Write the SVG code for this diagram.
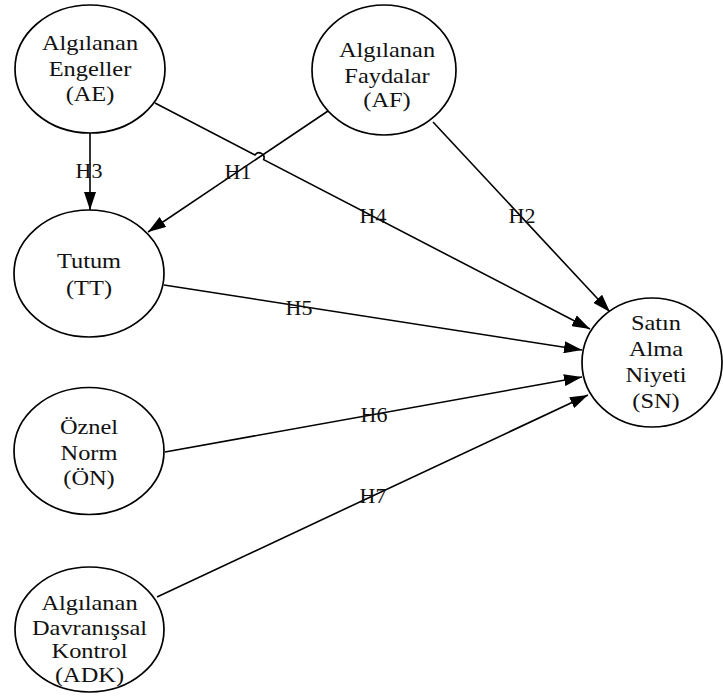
<svg xmlns="http://www.w3.org/2000/svg" width="723" height="698" viewBox="0 0 723 698">
<style>
.node ellipse{fill:#fff;stroke:#000;stroke-width:1.7}
.t{font-family:"Liberation Serif","Times New Roman",serif;font-size:20px;fill:#111;text-anchor:middle}
.lbl{font-family:"Liberation Serif","Times New Roman",serif;font-size:20px;fill:#111;text-anchor:middle}
.edge{fill:none;stroke:#000;stroke-width:1.6;marker-end:url(#arr)}
</style>
<defs>
<marker id="arr" markerUnits="userSpaceOnUse" markerWidth="18" markerHeight="12" refX="18" refY="6" orient="auto">
<path d="M0,0 L18,6 L0,12 z" fill="#000"/>
</marker>
</defs>
<rect width="723" height="698" fill="#fff"/>
<g id="connectors">
<path class="edge" d="M90,133 L90,210"/>
<path class="edge" d="M328,111 L148,232"/>
<path class="edge" d="M155,103 L254.9,155 A5,5 0 0 1 263.7,159.6 L590,329"/>
<path class="edge" d="M433,122 L610,312"/>
<path class="edge" d="M164,285 L582,350"/>
<path class="edge" d="M165,452 L582,377"/>
<path class="edge" d="M157,597 L588,395"/>
</g>
<g id="labels">
<text class="lbl" transform="translate(89,178) scale(1.1,1)">H3</text>
<text class="lbl" transform="translate(238,179) scale(1.1,1)">H1</text>
<text class="lbl" transform="translate(373,223) scale(1.1,1)">H4</text>
<text class="lbl" transform="translate(522,223) scale(1.1,1)">H2</text>
<text class="lbl" transform="translate(299,315) scale(1.1,1)">H5</text>
<text class="lbl" transform="translate(374,422) scale(1.1,1)">H6</text>
<text class="lbl" transform="translate(373,503) scale(1.1,1)">H7</text>
</g>
<g id="AE" class="node">
<ellipse cx="90" cy="69" rx="75" ry="64"/>
<g transform="translate(90,0) scale(1.22,1)">
<text class="t" x="0" y="50">Algılanan</text>
<text class="t" x="0" y="76">Engeller</text>
<text class="t" x="0" y="101">(AE)</text>
</g>
</g>
<g id="AF" class="node">
<ellipse cx="384" cy="70" rx="72" ry="65"/>
<g transform="translate(387,0) scale(1.22,1)">
<text class="t" x="0" y="57">Algılanan</text>
<text class="t" x="0" y="83">Faydalar</text>
<text class="t" x="0" y="107">(AF)</text>
</g>
</g>
<g id="TT" class="node">
<ellipse cx="89" cy="273.5" rx="75" ry="63.5"/>
<g transform="translate(89,0) scale(1.22,1)">
<text class="t" x="0" y="268">Tutum</text>
<text class="t" x="0" y="295">(TT)</text>
</g>
</g>
<g id="ON" class="node">
<ellipse cx="89" cy="451" rx="75" ry="63.5"/>
<g transform="translate(89,0) scale(1.22,1)">
<text class="t" x="0" y="434">Öznel</text>
<text class="t" x="0" y="460">Norm</text>
<text class="t" x="0" y="485">(ÖN)</text>
</g>
</g>
<g id="ADK" class="node">
<ellipse cx="89.5" cy="629.5" rx="74.5" ry="62.5"/>
<g transform="translate(89.5,0) scale(1.22,1)">
<text class="t" x="0" y="610">Algılanan</text>
<text class="t" x="0" y="635">Davranışsal</text>
<text class="t" x="0" y="658">Kontrol</text>
<text class="t" x="0" y="682">(ADK)</text>
</g>
</g>
<g id="SN" class="node">
<ellipse cx="652" cy="362.5" rx="70" ry="64.5"/>
<g transform="translate(656,0) scale(1.22,1)">
<text class="t" x="0" y="330">Satın</text>
<text class="t" x="0" y="356">Alma</text>
<text class="t" x="0" y="382">Niyeti</text>
<text class="t" x="0" y="408">(SN)</text>
</g>
</g>
</svg>
